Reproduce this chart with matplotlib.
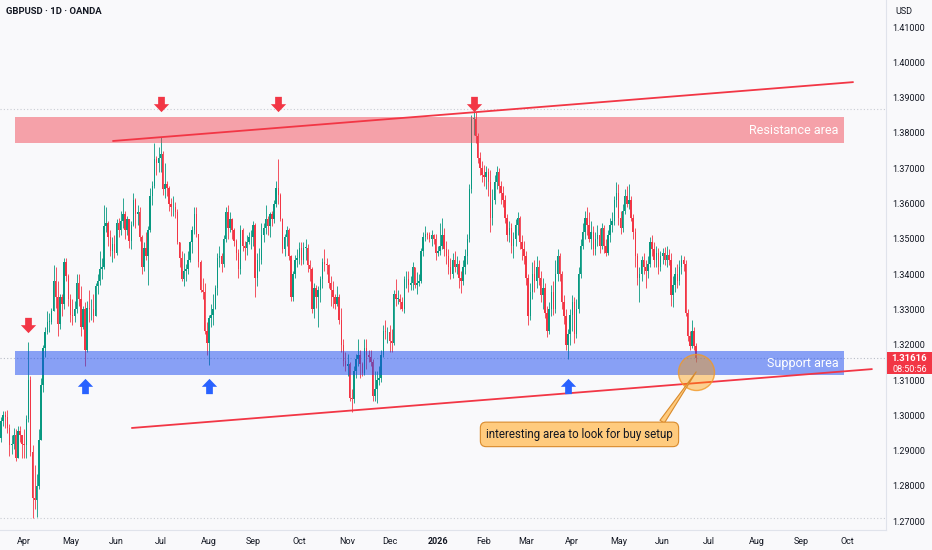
import matplotlib
matplotlib.use('Agg')
import matplotlib.pyplot as plt
from matplotlib.path import Path
from matplotlib.patches import Rectangle
from matplotlib.transforms import IdentityTransform
import numpy as np
import pandas as pd

plt.rcParams['font.family'] = ['Roboto', 'DejaVu Sans']

# ---- data (daily candles) ----
title = 'GBPUSD · 1D · OANDA'
start_date = '2025-03-14'
first_open = 1.2920

closes = [
    # Mar 2025
    1.2935, 1.2985, 1.3000, 1.2995, 1.2965, 1.2915, 1.2920, 1.2945, 1.2880, 1.2955, 1.2945, 1.2918,
    # Apr
    1.2915, 1.2990, 1.3100, 1.2895, 1.2765, 1.2760, 1.2800, 1.2930, 1.3085, 1.3190, 1.3235, 1.3265,
    1.3265, 1.3295, 1.3380, 1.3335, 1.3260, 1.3335, 1.3315, 1.3435, 1.3395, 1.3330,
    # May
    1.3285, 1.3280, 1.3300, 1.3375, 1.3330, 1.3250, 1.3300, 1.3185, 1.3305, 1.3300, 1.3300, 1.3280,
    1.3365, 1.3380, 1.3415, 1.3420, 1.3535, 1.3545, 1.3505, 1.3465, 1.3485, 1.3460,
    # Jun
    1.3545, 1.3525, 1.3550, 1.3570, 1.3525, 1.3555, 1.3495, 1.3540, 1.3610, 1.3570, 1.3575, 1.3505,
    1.3420, 1.3475, 1.3450, 1.3525, 1.3620, 1.3650, 1.3725, 1.3715, 1.3730,
    # Jul
    1.3740, 1.3640, 1.3655, 1.3645, 1.3600, 1.3590, 1.3590, 1.3575, 1.3490, 1.3445, 1.3385, 1.3410,
    1.3415, 1.3440, 1.3490, 1.3525, 1.3570, 1.3515, 1.3435, 1.3355, 1.3350, 1.3240, 1.3205,
    # Aug
    1.3275, 1.3285, 1.3300, 1.3360, 1.3445, 1.3450, 1.3430, 1.3500, 1.3575, 1.3530, 1.3555, 1.3525,
    1.3495, 1.3460, 1.3415, 1.3525, 1.3480, 1.3475, 1.3490, 1.3505, 1.3505,
    # Sep
    1.3540, 1.3390, 1.3440, 1.3440, 1.3510, 1.3530, 1.3555, 1.3535, 1.3570, 1.3555, 1.3600, 1.3645,
    1.3625, 1.3555, 1.3470, 1.3505, 1.3525, 1.3450, 1.3335, 1.3400, 1.3440, 1.3445,
    # Oct
    1.3475, 1.3440, 1.3475, 1.3475, 1.3425, 1.3415, 1.3300, 1.3360, 1.3335, 1.3355, 1.3385, 1.3435,
    1.3430, 1.3425, 1.3375, 1.3355, 1.3335, 1.3315, 1.3335, 1.3270, 1.3200, 1.3155, 1.3140,
    # Nov
    1.3145, 1.3050, 1.3045, 1.3125, 1.3160, 1.3170, 1.3145, 1.3120, 1.3190, 1.3170, 1.3165, 1.3150,
    1.3055, 1.3075, 1.3100, 1.3105, 1.3170, 1.3240, 1.3235, 1.3235,
    # Dec
    1.3210, 1.3205, 1.3345, 1.3330, 1.3330, 1.3320, 1.3300, 1.3385, 1.3385, 1.3370, 1.3375, 1.3420,
    1.3370, 1.3375, 1.3380, 1.3465, 1.3505, 1.3515, 1.3510, 1.3500, 1.3510, 1.3500, 1.3460,
    # Jan 2026
    1.3465, 1.3480, 1.3510, 1.3470, 1.3450, 1.3420, 1.3400, 1.3440, 1.3420, 1.3430, 1.3390, 1.3380,
    1.3420, 1.3450, 1.3500, 1.3640, 1.3840, 1.3840, 1.3790, 1.3730, 1.3700, 1.3680,
    # Feb
    1.3675, 1.3690, 1.3660, 1.3560, 1.3610, 1.3660, 1.3690, 1.3650, 1.3630, 1.3610, 1.3560, 1.3510,
    1.3530, 1.3480, 1.3500, 1.3540, 1.3560, 1.3490, 1.3470, 1.3450,
    # Mar
    1.3390, 1.3280, 1.3350, 1.3400, 1.3380, 1.3420, 1.3390, 1.3340, 1.3360, 1.3290, 1.3240, 1.3300,
    1.3350, 1.3300, 1.3400, 1.3450, 1.3400, 1.3320, 1.3280, 1.3200, 1.3230, 1.3285,
    # Apr
    1.3320, 1.3230, 1.3300, 1.3400, 1.3480, 1.3520, 1.3560, 1.3540, 1.3500, 1.3520, 1.3470, 1.3500,
    1.3510, 1.3480, 1.3530, 1.3480, 1.3460, 1.3510, 1.3540, 1.3550, 1.3610, 1.3630,
    # May
    1.3560, 1.3530, 1.3580, 1.3620, 1.3600, 1.3610, 1.3560, 1.3520, 1.3450, 1.3390, 1.3400, 1.3440,
    1.3420, 1.3410, 1.3430, 1.3490, 1.3470, 1.3440, 1.3460, 1.3420, 1.3450,
    # Jun
    1.3460, 1.3440, 1.3455, 1.3440, 1.3340, 1.3370, 1.3400, 1.3380, 1.3420, 1.3440, 1.3430, 1.3290,
    1.3225, 1.3195, 1.3240, 1.3195, 1.31616,
]

highs = [
    1.2960, 1.2995, 1.3012, 1.3012, 1.3014, 1.2975, 1.2945, 1.2965, 1.2960, 1.2970, 1.2970, 1.2945,
    1.2960, 1.3000, 1.3207, 1.3110, 1.2915, 1.2860, 1.2835, 1.2960, 1.3105, 1.3200, 1.3250, 1.3295,
    1.3290, 1.3305, 1.3425, 1.3420, 1.3380, 1.3345, 1.3345, 1.3445, 1.3445, 1.3400,
    1.3345, 1.3330, 1.3325, 1.3400, 1.3400, 1.3365, 1.3310, 1.3320, 1.3325, 1.3355, 1.3330, 1.3345,
    1.3375, 1.3400, 1.3465, 1.3445, 1.3595, 1.3590, 1.3550, 1.3525, 1.3505, 1.3510,
    1.3555, 1.3560, 1.3580, 1.3615, 1.3580, 1.3565, 1.3555, 1.3550, 1.3630, 1.3615, 1.3595, 1.3590,
    1.3510, 1.3490, 1.3520, 1.3535, 1.3645, 1.3665, 1.3770, 1.3735, 1.3760,
    1.3789, 1.3750, 1.3715, 1.3665, 1.3650, 1.3615, 1.3620, 1.3605, 1.3585, 1.3490, 1.3465, 1.3460,
    1.3430, 1.3465, 1.3495, 1.3535, 1.3590, 1.3590, 1.3515, 1.3440, 1.3390, 1.3375, 1.3265,
    1.3285, 1.3315, 1.3345, 1.3370, 1.3460, 1.3480, 1.3460, 1.3510, 1.3590, 1.3595, 1.3575, 1.3560,
    1.3530, 1.3500, 1.3470, 1.3540, 1.3530, 1.3495, 1.3510, 1.3520, 1.3525,
    1.3550, 1.3545, 1.3460, 1.3475, 1.3545, 1.3545, 1.3595, 1.3565, 1.3575, 1.3580, 1.3610, 1.3665,
    1.3726, 1.3630, 1.3560, 1.3515, 1.3535, 1.3530, 1.3455, 1.3410, 1.3455, 1.3470,
    1.3490, 1.3490, 1.3490, 1.3500, 1.3485, 1.3440, 1.3420, 1.3375, 1.3370, 1.3365, 1.3395, 1.3445,
    1.3470, 1.3445, 1.3430, 1.3395, 1.3380, 1.3345, 1.3365, 1.3345, 1.3305, 1.3215, 1.3180,
    1.3175, 1.3150, 1.3075, 1.3140, 1.3175, 1.3215, 1.3185, 1.3150, 1.3215, 1.3215, 1.3185, 1.3185,
    1.3160, 1.3125, 1.3125, 1.3140, 1.3185, 1.3255, 1.3270, 1.3250,
    1.3255, 1.3245, 1.3355, 1.3385, 1.3355, 1.3345, 1.3335, 1.3395, 1.3410, 1.3410, 1.3395, 1.3435,
    1.3420, 1.3405, 1.3400, 1.3475, 1.3520, 1.3535, 1.3520, 1.3520, 1.3525, 1.3515, 1.3515,
    1.3480, 1.3545, 1.3560, 1.3530, 1.3495, 1.3470, 1.3445, 1.3460, 1.3465, 1.3450, 1.3440, 1.3410,
    1.3440, 1.3470, 1.3515, 1.3655, 1.3850, 1.3868, 1.3860, 1.3800, 1.3745, 1.3720,
    1.3710, 1.3705, 1.3700, 1.3695, 1.3640, 1.3680, 1.3705, 1.3700, 1.3665, 1.3650, 1.3625, 1.3570,
    1.3550, 1.3545, 1.3520, 1.3555, 1.3575, 1.3565, 1.3510, 1.3495,
    1.3465, 1.3400, 1.3375, 1.3435, 1.3440, 1.3450, 1.3440, 1.3410, 1.3390, 1.3375, 1.3310, 1.3320,
    1.3370, 1.3380, 1.3440, 1.3470, 1.3460, 1.3410, 1.3340, 1.3300, 1.3245, 1.3300,
    1.3340, 1.3335, 1.3330, 1.3420, 1.3500, 1.3545, 1.3580, 1.3590, 1.3575, 1.3550, 1.3535, 1.3520,
    1.3540, 1.3530, 1.3545, 1.3540, 1.3500, 1.3525, 1.3560, 1.3575, 1.3620, 1.3660,
    1.3655, 1.3580, 1.3600, 1.3640, 1.3650, 1.3655, 1.3620, 1.3570, 1.3530, 1.3460, 1.3420, 1.3450,
    1.3460, 1.3440, 1.3450, 1.3505, 1.3510, 1.3490, 1.3480, 1.3475, 1.3465,
    1.3475, 1.3478, 1.3480, 1.3470, 1.3460, 1.3395, 1.3420, 1.3430, 1.3440, 1.3454, 1.3450, 1.3440,
    1.3300, 1.3240, 1.3270, 1.3250, 1.3205,
]

lows = [
    1.2900, 1.2925, 1.2970, 1.2965, 1.2950, 1.2885, 1.2890, 1.2905, 1.2870, 1.2878, 1.2925, 1.2880,
    1.2880, 1.2880, 1.2980, 1.2885, 1.2709, 1.2735, 1.2712, 1.2790, 1.2930, 1.3065, 1.3165, 1.3230,
    1.3235, 1.3260, 1.3295, 1.3305, 1.3225, 1.3245, 1.3280, 1.3300, 1.3380, 1.3310,
    1.3265, 1.3255, 1.3265, 1.3290, 1.3310, 1.3225, 1.3245, 1.3140, 1.3180, 1.3265, 1.3270, 1.3265,
    1.3280, 1.3345, 1.3370, 1.3385, 1.3415, 1.3520, 1.3480, 1.3450, 1.3435, 1.3445,
    1.3455, 1.3505, 1.3510, 1.3530, 1.3500, 1.3510, 1.3475, 1.3470, 1.3535, 1.3530, 1.3540, 1.3495,
    1.3400, 1.3410, 1.3440, 1.3370, 1.3520, 1.3595, 1.3645, 1.3680, 1.3690,
    1.3690, 1.3625, 1.3615, 1.3620, 1.3580, 1.3565, 1.3565, 1.3560, 1.3485, 1.3420, 1.3380, 1.3365,
    1.3380, 1.3400, 1.3435, 1.3460, 1.3515, 1.3505, 1.3420, 1.3350, 1.3330, 1.3230, 1.3170,
    1.3142, 1.3250, 1.3255, 1.3300, 1.3340, 1.3420, 1.3405, 1.3420, 1.3490, 1.3500, 1.3520, 1.3500,
    1.3480, 1.3440, 1.3390, 1.3400, 1.3465, 1.3440, 1.3455, 1.3485, 1.3470,
    1.3480, 1.3335, 1.3365, 1.3410, 1.3430, 1.3490, 1.3515, 1.3510, 1.3505, 1.3535, 1.3545, 1.3590,
    1.3600, 1.3550, 1.3460, 1.3450, 1.3480, 1.3440, 1.3325, 1.3325, 1.3390, 1.3420,
    1.3430, 1.3425, 1.3430, 1.3440, 1.3405, 1.3380, 1.3290, 1.3275, 1.3305, 1.3250, 1.3320, 1.3360,
    1.3410, 1.3400, 1.3360, 1.3310, 1.3305, 1.3300, 1.3310, 1.3260, 1.3180, 1.3140, 1.3125,
    1.3110, 1.3040, 1.3010, 1.3035, 1.3105, 1.3140, 1.3105, 1.3110, 1.3115, 1.3130, 1.3150, 1.3140,
    1.3040, 1.3040, 1.3035, 1.3085, 1.3095, 1.3165, 1.3215, 1.3205,
    1.3180, 1.3180, 1.3200, 1.3310, 1.3315, 1.3300, 1.3295, 1.3290, 1.3360, 1.3350, 1.3355, 1.3355,
    1.3360, 1.3345, 1.3365, 1.3375, 1.3450, 1.3495, 1.3500, 1.3490, 1.3480, 1.3485, 1.3440,
    1.3450, 1.3455, 1.3470, 1.3450, 1.3430, 1.3400, 1.3385, 1.3390, 1.3405, 1.3400, 1.3360, 1.3347,
    1.3370, 1.3400, 1.3430, 1.3490, 1.3630, 1.3795, 1.3770, 1.3715, 1.3680, 1.3660,
    1.3650, 1.3640, 1.3620, 1.3520, 1.3540, 1.3600, 1.3640, 1.3630, 1.3600, 1.3590, 1.3545, 1.3495,
    1.3490, 1.3460, 1.3445, 1.3480, 1.3510, 1.3470, 1.3440, 1.3430,
    1.3370, 1.3255, 1.3270, 1.3330, 1.3350, 1.3360, 1.3370, 1.3320, 1.3300, 1.3275, 1.3222, 1.3230,
    1.3280, 1.3285, 1.3290, 1.3380, 1.3380, 1.3300, 1.3260, 1.3185, 1.3160, 1.3200,
    1.3240, 1.3205, 1.3220, 1.3290, 1.3390, 1.3470, 1.3500, 1.3510, 1.3490, 1.3470, 1.3455, 1.3455,
    1.3480, 1.3460, 1.3470, 1.3460, 1.3450, 1.3455, 1.3490, 1.3520, 1.3540, 1.3590,
    1.3540, 1.3515, 1.3520, 1.3570, 1.3590, 1.3585, 1.3550, 1.3500, 1.3420, 1.3370, 1.3320, 1.3380,
    1.3400, 1.3360, 1.3390, 1.3420, 1.3450, 1.3420, 1.3420, 1.3400, 1.3410,
    1.3430, 1.3425, 1.3420, 1.3425, 1.3310, 1.3307, 1.3350, 1.3360, 1.3370, 1.3400, 1.3410, 1.3280,
    1.3210, 1.3185, 1.3190, 1.3185, 1.3150,
]

# drawings on the chart
resistance_zone = (1.3771, 1.3845)
support_zone = (1.3114, 1.3182)
zone_dates = ('2025-03-26', '2026-09-29')
upper_trend = [('2025-05-29', 1.3777), ('2026-10-06', 1.3944)]
lower_trend = [('2025-06-11', 1.2964), ('2026-10-19', 1.3131)]
sell_dates = ['2025-04-03', '2025-07-01', '2025-09-17', '2026-01-26']
sell_prices = [1.3256, 1.3882, 1.3882, 1.3882]
buy_dates = ['2025-05-12', '2025-08-01', '2026-03-30']
buy_prices = [1.3083, 1.3083, 1.3083]
focus_price = 1.3123
callout = 'interesting area to look for buy setup'
countdown = '08:50:56'

assert len(closes) == len(highs) == len(lows)

# ---- layout ----
W, H = 932, 550
GREEN, RED, BLUE = '#089981', '#F23645', '#2962FF'
TXT = '#131722'
BG = '#f9f9fb'

fig = plt.figure(figsize=(W / 100, H / 100), dpi=100, facecolor=BG)
ax = fig.add_axes([0, 20 / H, 886 / W, 530 / H], facecolor=BG)

dates = pd.bdate_range(start_date, periods=460)
def pos(d):
    return dates.get_loc(pd.Timestamp(d))

n = len(closes)
x = np.arange(n)
c = np.array(closes)
o = np.array([first_open] + closes[:-1])
hi = np.array(highs)
lo = np.array(lows)
cols = np.where(c >= o, GREEN, RED)

ax.set_xlim(0.5, 0.5 + 886 / 2.1)
ax.set_ylim(1.26751, 1.41765)

# candles
ax.vlines(x, lo, hi, colors=cols, lw=0.6, zorder=2)
body = np.maximum(np.abs(c - o), 0.00012)
ax.bar(x, body, bottom=np.minimum(o, c), width=0.62, color=cols, lw=0, zorder=2)

# high / low and last price lines
ax.axhline(hi.max(), color='#c9ccd3', ls=(0, (1, 2)), lw=0.8, zorder=1)
ax.axhline(lo.min(), color='#c9ccd3', ls=(0, (1, 2)), lw=0.8, zorder=1)
ax.axhline(c[-1], color='#b8bcc6', ls=(0, (1, 2)), lw=0.8, zorder=1)

# zones
x0, x1 = pos(zone_dates[0]) - 0.5, pos(zone_dates[1]) + 0.5
ax.add_patch(Rectangle((x0, resistance_zone[0]), x1 - x0, resistance_zone[1] - resistance_zone[0],
                       fc=RED, alpha=0.45, lw=0, zorder=3))
ax.add_patch(Rectangle((x0, support_zone[0]), x1 - x0, support_zone[1] - support_zone[0],
                       fc='#1848f0', alpha=0.5, lw=0, zorder=3))
ax.annotate('Resistance area', (x1, sum(resistance_zone) / 2), xytext=(-4, 0),
            textcoords='offset points', ha='right', va='center', color='white', fontsize=9, zorder=4)
ax.annotate('Support area', (x1, sum(support_zone) / 2), xytext=(-4, 0),
            textcoords='offset points', ha='right', va='center', color='white', fontsize=9, zorder=4)

# trend lines
for line in (upper_trend, lower_trend):
    ax.plot([pos(line[0][0]), pos(line[1][0])], [line[0][1], line[1][1]],
            color=RED, lw=1.3, zorder=4, solid_capstyle='butt')

# arrows
down = Path([(-0.22, 0.5), (0.22, 0.5), (0.22, 0.02), (0.5, 0.02), (0.0, -0.5),
             (-0.5, 0.02), (-0.22, 0.02), (-0.22, 0.5)], closed=True)
up = Path([(-0.22, -0.5), (0.22, -0.5), (0.22, -0.02), (0.5, -0.02), (0.0, 0.5),
           (-0.5, -0.02), (-0.22, -0.02), (-0.22, -0.5)], closed=True)
ax.plot([pos(d) for d in sell_dates], sell_prices, ls='none', marker=down, ms=11,
        color=RED, mew=0, zorder=5)
ax.plot([pos(d) for d in buy_dates], buy_prices, ls='none', marker=up, ms=11,
        color=BLUE, mew=0, zorder=5)

# focus circle + callout
ax.scatter([x[-1]], [focus_price], s=(36 * 0.72) ** 2, fc=(1, 0.6, 0, 0.42),
           ec=(0.95, 0.6, 0.15, 0.8), lw=1, zorder=6)
ax.annotate(callout, xy=(x[-1], focus_price), xytext=(-84, -45), textcoords='offset points',
            ha='center', va='center', fontsize=8.3, color=TXT, zorder=7,
            bbox=dict(boxstyle='round,pad=0.5,rounding_size=0.5', fc='#FFCB7E', ec='#D98A2B', lw=0.8),
            arrowprops=dict(arrowstyle='wedge,tail_width=0.45', fc='#FFCB7E', ec='#D98A2B', lw=0.8,
                            relpos=(0.92, 1.0), shrinkA=0, shrinkB=0))

# axes styling
for s in ('top', 'left'):
    ax.spines[s].set_visible(False)
ax.spines['right'].set_color('#e0e3eb')
ax.spines['bottom'].set_color('#e0e3eb')

ax.yaxis.tick_right()
yt = np.arange(1.27, 1.4150, 0.01)
ax.set_yticks(yt)
ax.set_yticklabels([f'{v:.5f}' for v in yt])
ax.tick_params(axis='y', length=0, pad=4.5, labelsize=6.5, labelcolor=TXT)

month_pos, month_lab = [], []
for m in pd.date_range('2025-04-01', '2026-10-01', freq='MS'):
    month_pos.append(int(np.searchsorted(dates, m)))
    month_lab.append(str(m.year) if m.month == 1 else m.strftime('%b'))
ax.set_xticks(month_pos)
ax.set_xticklabels(month_lab)
ax.tick_params(axis='x', length=0, pad=5, labelsize=6.5, labelcolor=TXT)
for t in ax.get_xticklabels():
    if t.get_text().isdigit():
        t.set_fontweight('bold')

# header and price axis extras
fig.text(6 / W, 1 - 11 / H, title, fontsize=6.8, fontweight='bold', color=TXT, va='center')
fig.text(895 / W, 1 - 11 / H, 'USD', fontsize=6.5, color=TXT, va='center')

yd = ax.transData.transform((x[-1], c[-1]))[1]
fig.add_artist(Rectangle((887, yd - 16), 45, 22, transform=IdentityTransform(),
                         fc=RED, lw=0, zorder=10))
fig.text(909.5 / W, yd / H, f'{c[-1]:.5f}', color='white', fontsize=6.8, fontweight='bold',
         ha='center', va='center', zorder=11)
fig.text(909.5 / W, (yd - 11) / H, countdown, color='white', fontsize=6.5,
         ha='center', va='center', zorder=11)

fig.savefig('out.png', dpi=100, facecolor=BG)
